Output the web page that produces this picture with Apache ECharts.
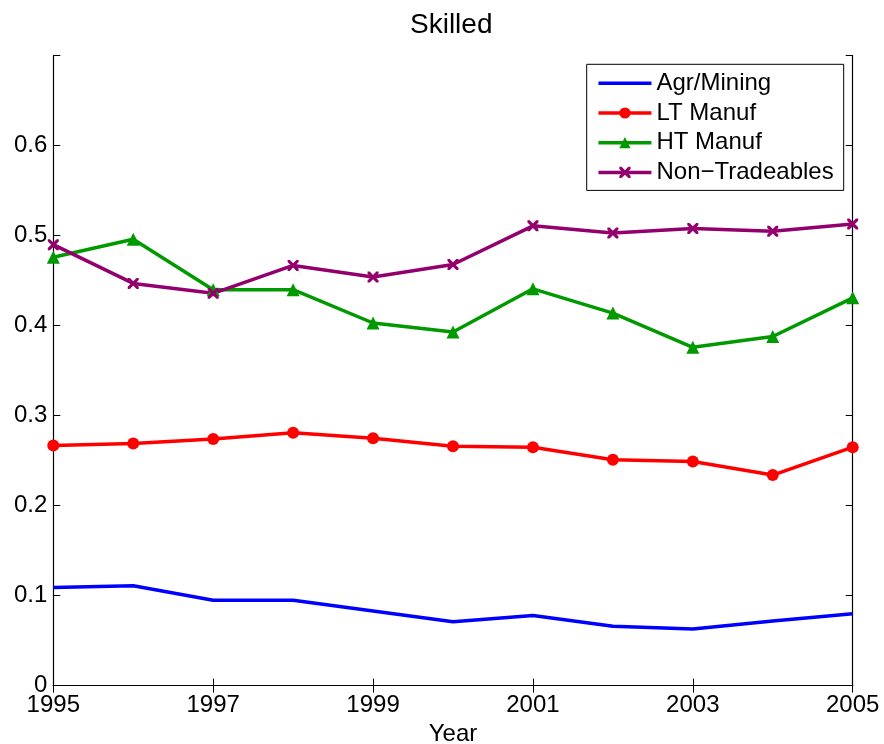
<!DOCTYPE html>
<html>
<head>
<meta charset="utf-8">
<script src="https://cdn.jsdelivr.net/npm/echarts@6/dist/echarts.min.js"></script>
<style>html,body{margin:0;padding:0;background:#fff;}#c{width:884px;height:744px;}</style>
</head>
<body>
<div id="c"></div>
<script>
const years = ['1995','1996','1997','1998','1999','2000','2001','2002','2003','2004','2005'];
const agrMining = [0.109, 0.111, 0.095, 0.095, 0.083, 0.071, 0.078, 0.066, 0.063, 0.072, 0.080];
const ltManuf = [0.267, 0.269, 0.274, 0.281, 0.275, 0.266, 0.265, 0.251, 0.249, 0.234, 0.265];
const htManuf = [0.476, 0.496, 0.440, 0.440, 0.403, 0.393, 0.441, 0.414, 0.376, 0.388, 0.431];
const nonTradeables = [0.490, 0.447, 0.436, 0.467, 0.454, 0.468, 0.511, 0.503, 0.508, 0.505, 0.513];
const seriesNames = ['Agr/Mining', 'LT Manuf', 'HT Manuf', 'Non\u2212Tradeables'];

const FONT = 'Liberation Sans, Arial, Helvetica, sans-serif';
const xMark = 'path://M0,0 L2,0 L5,3 L8,0 L10,0 L10,2 L7,5 L10,8 L10,10 L8,10 L5,7 L2,10 L0,10 L0,8 L3,5 L0,2 Z';
const plainLine = 'path://M0,0 L53,0 L53,3.5 L0,3.5 Z';

const chart = echarts.init(document.getElementById('c'), null, {renderer: 'canvas'});
const axisLine = {show: true, lineStyle: {color: '#000', width: 1.2}};
const axisTick = {show: true, inside: true, length: 7, lineStyle: {color: '#000', width: 1}};
chart.setOption({
  animation: false,
  backgroundColor: '#fff',
  textStyle: {fontFamily: FONT},
  title: {
    text: 'Skilled', left: 410, top: 11, padding: 0,
    textStyle: {fontFamily: FONT, fontSize: 28, fontWeight: 'normal', color: '#000'}
  },
  grid: {left: 53.3, right: 31.3, top: 55.7, bottom: 58.3, containLabel: false, outerBoundsMode: 'none'},
  legend: {
    orient: 'vertical', left: 586.7, top: 64.3,
    padding: [7, 10, 6, 10], itemGap: 5.7, itemWidth: 53, itemHeight: 14,
    borderColor: '#000', borderWidth: 1, backgroundColor: '#fff',
    lineStyle: {width: 3.5},
    textStyle: {fontFamily: FONT, fontSize: 24, color: '#000', lineHeight: 24},
    data: [{name: seriesNames[0], icon: plainLine}, seriesNames[1], seriesNames[2], seriesNames[3]]
  },
  xAxis: [{
    type: 'category', data: years, boundaryGap: false, position: 'bottom',
    axisLine: axisLine, axisTick: Object.assign({interval: 1}, axisTick),
    axisLabel: {interval: 1, margin: 8, color: '#000', fontSize: 24, fontFamily: FONT},
    splitLine: {show: false},
    name: 'Year', nameLocation: 'middle', nameGap: 32,
    nameTextStyle: {color: '#000', fontSize: 24, fontFamily: FONT}
  }, {
    type: 'category', data: years, boundaryGap: false, position: 'top',
    axisLine: axisLine, axisTick: Object.assign({interval: 1}, axisTick),
    axisLabel: {show: false}, splitLine: {show: false}
  }],
  yAxis: [{
    type: 'value', min: 0, max: 0.7, interval: 0.1, position: 'left',
    axisLine: axisLine, axisTick: axisTick, splitLine: {show: false},
    axisLabel: {
      margin: 6, color: '#000', fontSize: 24, fontFamily: FONT,
      formatter: v => (v > 0.65 ? '' : String(+v.toFixed(1)))
    }
  }, {
    type: 'value', min: 0, max: 0.7, interval: 0.1, position: 'right',
    axisLine: axisLine, axisTick: axisTick, splitLine: {show: false},
    axisLabel: {show: false}
  }],
  series: [{
    name: seriesNames[0], type: 'line', data: agrMining, symbol: 'none',
    lineStyle: {color: '#0000FF', width: 3.5}, itemStyle: {color: '#0000FF'}
  }, {
    name: seriesNames[1], type: 'line', data: ltManuf, symbol: 'circle', symbolSize: 12,
    lineStyle: {color: '#FF0000', width: 3.5}, itemStyle: {color: '#FF0000'}
  }, {
    name: seriesNames[2], type: 'line', data: htManuf, symbol: 'triangle', symbolSize: 13,
    lineStyle: {color: '#009900', width: 3.5}, itemStyle: {color: '#009900'}
  }, {
    name: seriesNames[3], type: 'line', data: nonTradeables, symbol: xMark, symbolSize: 11,
    lineStyle: {color: '#93006E', width: 3.5}, itemStyle: {color: '#93006E'}
  }]
});
</script>
</body>
</html>
